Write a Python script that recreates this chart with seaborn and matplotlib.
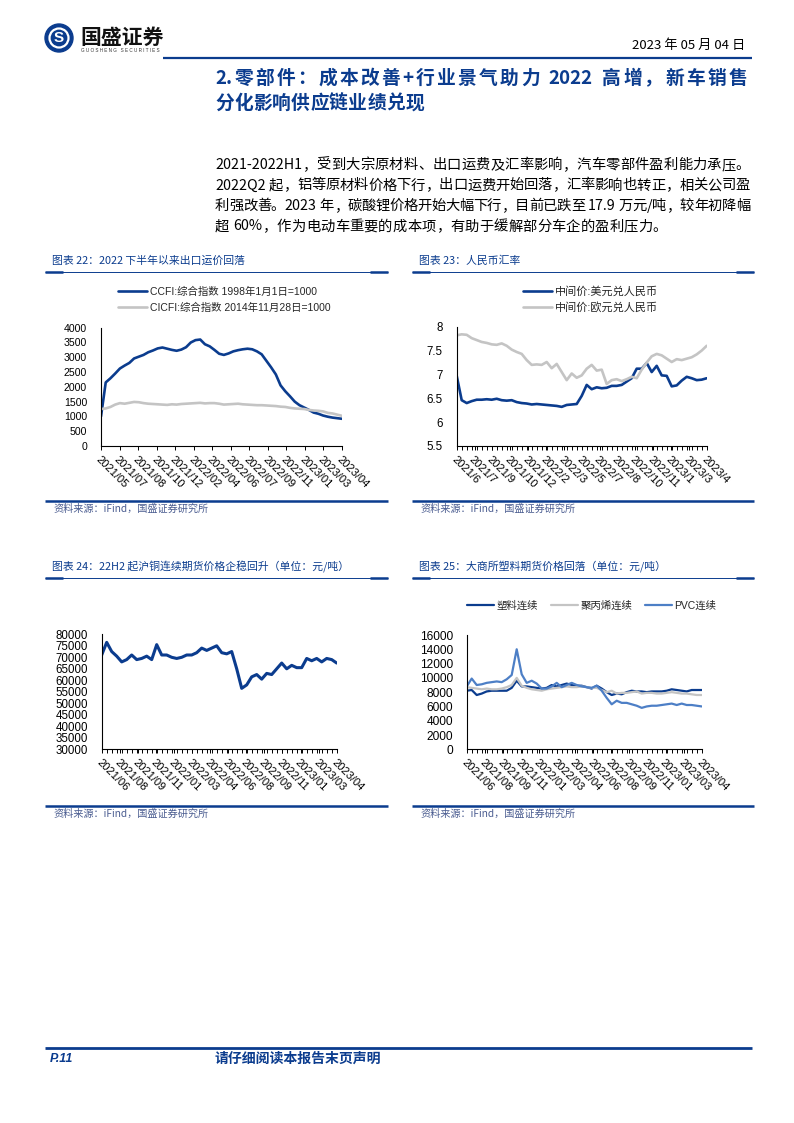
import re
import numpy as np
import pandas as pd
import matplotlib
matplotlib.use('Agg')
import matplotlib.pyplot as plt
import matplotlib.transforms as mtrans
import seaborn as sns
from matplotlib.lines import Line2D
from matplotlib.patches import Ellipse

# ---------------- data ----------------
ccfi_labels = ['2021/05', '2021/07', '2021/08', '2021/10', '2021/12', '2022/02', '2022/04',
               '2022/06', '2022/07', '2022/09', '2022/11', '2023/01', '2023/03', '2023/04']
ccfi = [1000, 2150, 2290, 2450, 2620, 2720, 2810, 2960, 3020, 3080,
        3170, 3230, 3300, 3330, 3290, 3250, 3220, 3260, 3340, 3500,
        3580, 3600, 3440, 3370, 3250, 3120, 3080, 3130, 3200, 3240,
        3270, 3290, 3270, 3200, 3100, 2880, 2660, 2420, 2050, 1850,
        1680, 1500, 1380, 1300, 1220, 1130, 1090, 1030, 990, 960,
        940, 920]
cicfi = [1250, 1270, 1320, 1400, 1450, 1430, 1460, 1490, 1480, 1450,
         1430, 1420, 1410, 1400, 1390, 1410, 1400, 1420, 1430, 1440,
         1450, 1460, 1440, 1450, 1450, 1430, 1400, 1410, 1420, 1430,
         1410, 1400, 1390, 1380, 1380, 1370, 1360, 1350, 1330, 1320,
         1290, 1270, 1260, 1250, 1220, 1200, 1190, 1170, 1120, 1100,
         1060, 1020]

fx_labels = ['2021/6', '2021/7', '2021/9', '2021/10', '2021/12', '2022/2', '2022/3', '2022/5',
             '2022/7', '2022/8', '2022/10', '2022/11', '2023/1', '2023/3', '2023/4']
usd_cny = [6.97, 6.46, 6.40, 6.44, 6.47, 6.47, 6.48, 6.47, 6.49, 6.46,
           6.45, 6.46, 6.42, 6.40, 6.39, 6.37, 6.38, 6.37, 6.36, 6.35,
           6.34, 6.32, 6.36, 6.37, 6.38, 6.55, 6.78, 6.69, 6.73, 6.71,
           6.72, 6.76, 6.76, 6.78, 6.85, 6.92, 7.12, 7.12, 7.24, 7.05,
           7.18, 6.98, 6.97, 6.75, 6.77, 6.87, 6.95, 6.92, 6.88, 6.89,
           6.92]
eur_cny = [7.82, 7.84, 7.83, 7.76, 7.72, 7.68, 7.66, 7.63, 7.62, 7.65,
           7.60, 7.52, 7.47, 7.43, 7.30, 7.20, 7.21, 7.20, 7.26, 7.13,
           7.22, 7.05, 6.88, 7.02, 6.93, 6.98, 7.12, 7.20, 7.08, 7.10,
           6.80, 6.88, 6.90, 6.86, 6.90, 6.95, 6.92, 7.10, 7.25, 7.38,
           7.43, 7.40, 7.33, 7.26, 7.32, 7.30, 7.33, 7.36, 7.42, 7.50,
           7.60]

fut_labels = ['2021/06', '2021/08', '2021/09', '2021/11', '2022/01', '2022/03', '2022/04',
              '2022/06', '2022/08', '2022/09', '2022/11', '2023/01', '2023/03', '2023/04']
copper = [71000, 76500, 72500, 70500, 68000, 69000, 71000, 69000, 69500, 70500,
          69000, 75500, 71000, 71000, 70000, 69500, 70000, 71000, 71000, 72000,
          74000, 73000, 74000, 75000, 72000, 71500, 72500, 65000, 56500, 58000,
          61500, 62500, 60500, 63000, 62500, 65000, 67500, 65000, 66500, 65500,
          65500, 69500, 68500, 69500, 68000, 69500, 69000, 67500]
lldpe = [8200, 8300, 7600, 7800, 8100, 8200, 8200, 8200, 8200, 8600,
         9600, 8800, 8800, 8700, 8600, 8500, 8600, 9000, 8800, 9000,
         9200, 9000, 8900, 8900, 8700, 8500, 8900, 8500, 8000, 7600,
         7800, 7700, 8000, 8200, 8100, 8100, 8000, 8100, 8100, 8100,
         8200, 8400, 8300, 8200, 8100, 8300, 8300, 8300]
pp = [8700, 8600, 8500, 8400, 8500, 8400, 8400, 8500, 8700, 9000,
      10000, 8900, 8600, 8400, 8300, 8200, 8400, 8500, 8600, 8700,
      8800, 8700, 8700, 8800, 8700, 8600, 8600, 8300, 8000, 8200,
      7800, 7900, 7900, 8000, 8100, 7800, 7900, 7900, 7800, 7800,
      7900, 8000, 7900, 7800, 7800, 7700, 7600, 7600]
pvc = [8800, 9900, 9000, 9100, 9300, 9400, 9500, 9400, 9800, 10400,
       14000, 10500, 9300, 9600, 9200, 8500, 8500, 8800, 9300, 8700,
       9000, 9300, 9000, 8800, 8700, 8600, 8900, 8200, 7200, 6300,
       6800, 6500, 6500, 6300, 6100, 5800, 6000, 6100, 6100, 6200,
       6300, 6400, 6200, 6400, 6200, 6200, 6100, 6000]

BLUE = '#0b3c8e'
GRAY = '#c4c4c4'
PVC_BLUE = '#4d7fc6'
SRC = '#4a5c90'

W, H = 794, 1123
sns.set_theme(style='white')
plt.rcParams['font.family'] = ['Liberation Sans', 'Noto Sans CJK SC', 'DejaVu Sans']
CJK = ['Noto Sans CJK SC', 'DejaVu Sans']

fig = plt.figure(figsize=(W / 100, H / 100), dpi=100)


def fy(y):
    return 1 - y / H


def panel(l, t, r, b):
    return fig.add_axes([l / W, 1 - b / H, (r - l) / W, (b - t) / H])


def hline(x0, x1, y, lw, color=BLUE):
    fig.add_artist(Line2D([x0 / W, x1 / W], [fy(y), fy(y)], lw=lw, color=color,
                          transform=fig.transFigure, solid_capstyle='butt'))


def put_line(x0, x1, y, s, size, justify=True, **kw):
    # spread CJK characters so the line fills x0..x1 like the justified report text
    r = fig.canvas.get_renderer()
    toks = re.findall(r'[!-~]+|\s|.', s)
    arts, widths = [], []
    for tk in toks:
        if tk.isspace():
            arts.append(None)
            widths.append(size * 0.25 * 100 / 72)
            continue
        a = fig.text(0, fy(y), tk, fontsize=size, va='center', ha='left', **kw)
        arts.append(a)
        widths.append(a.get_window_extent(r).width)
    gap = (x1 - x0 - sum(widths)) / (len(toks) - 1) if justify else size * 0.02
    x = x0
    for a, w in zip(arts, widths):
        if a is not None:
            a.set_x(x / W)
        x += w + gap


def draw(ax, series, colors, lw):
    df = pd.DataFrame(series)
    df['i'] = np.arange(len(df))
    long = df.melt(id_vars='i', var_name='name', value_name='v')
    sns.lineplot(data=long, x='i', y='v', hue='name', hue_order=list(series), palette=colors,
                 linewidth=lw, ax=ax, legend=False, sort=False)
    return len(df)


def finish(ax, n, labels, yticks, ylabels, ysize, minor=True):
    ax.set_xlim(0, n - 1)
    ax.set_ylim(yticks[0], yticks[-1])
    ax.set_xticks(np.linspace(0, n - 1, len(labels)))
    ax.set_xticklabels(labels, rotation=-45, ha='left', va='top', rotation_mode='anchor', fontsize=8)
    off = mtrans.ScaledTranslation(5 / 100, -3 / 100, fig.dpi_scale_trans)
    for lab in ax.get_xticklabels():
        lab.set_transform(lab.get_transform() + off)
    if minor:
        ax.set_xticks(np.arange(n), minor=True)
    ax.set_yticks(yticks)
    ax.set_yticklabels(ylabels, fontsize=ysize)
    ax.tick_params(axis='x', which='both', bottom=True, direction='out', length=3, width=0.7,
                   colors='black', pad=3)
    ax.tick_params(axis='y', left=False, pad=4, colors='black')
    sns.despine(ax=ax)
    for s in ['left', 'bottom']:
        ax.spines[s].set_color('black')
        ax.spines[s].set_linewidth(0.8)
    ax.set_xlabel('')
    ax.set_ylabel('')
    ax.patch.set_alpha(0)


def chart_frame(x0, x1, y_title, y_rule, y_src, title):
    fig.text((x0 + 7) / W, fy(y_title), title, fontsize=7.8, style='italic', color=BLUE,
             va='center', ha='left', family=CJK)
    hline(x0, x1, y_rule, 0.7)
    hline(x0, x0 + 18, y_rule, 1.8)
    hline(x1 - 18, x1, y_rule, 1.8)
    hline(x0, x1, y_src, 1.8)
    fig.text((x0 + 8) / W, fy(y_src + 7.5), '资料来源：iFind，国盛证券研究所', fontsize=7.3,
             style='italic', color=SRC, va='center', ha='left', family=CJK)


# ---------------- header ----------------
fig.add_artist(Ellipse((59 / W, fy(38)), 28 / W, 28 / H, color=BLUE, transform=fig.transFigure))
fig.add_artist(Ellipse((59 / W, fy(38)), 19 / W, 19 / H, fill=False, edgecolor='white', lw=1.6,
                       transform=fig.transFigure))
fig.text(59 / W, fy(38), 'S', color='white', fontsize=11, fontweight='bold', ha='center', va='center')
fig.text(80 / W, fy(37), '国盛证券', fontsize=15, fontweight='bold', color='#111111',
         ha='left', va='center', family=CJK)
fig.text(81 / W, fy(51), 'G U O S H E N G   S E C U R I T I E S', fontsize=3.3, color='#333333',
         ha='left', va='center')
fig.text(745 / W, fy(45), '2023 年 05 月 04 日', fontsize=9.5, color='black', ha='right', va='center',
         family=CJK)
hline(163, 752, 58, 1.6)

# ---------------- section title and text ----------------
put_line(215, 747, 78.5, '2.零部件：成本改善+行业景气助力 2022 高增，新车销售', 13.5,
         color=BLUE, fontweight='bold', family=CJK)
put_line(215, 747, 103.5, '分化影响供应链业绩兑现', 13.5, justify=False,
         color=BLUE, fontweight='bold', family=CJK)
para = ['2021-2022H1，受到大宗原材料、出口运费及汇率影响，汽车零部件盈利能力承压。',
        '2022Q2 起，铝等原材料价格下行，出口运费开始回落，汇率影响也转正，相关公司盈',
        '利强改善。2023 年，碳酸锂价格开始大幅下行，目前已跌至 17.9 万元/吨，较年初降幅',
        '超 60%，作为电动车重要的成本项，有助于缓解部分车企的盈利压力。']
for k, line in enumerate(para):
    put_line(215, 750, 165 + 20.5 * k, line, 10.3, justify=k < 3, color='black', family=CJK)

# ---------------- chart frames ----------------
chart_frame(45, 388, 260.5, 272, 501, '图表 22：2022 下半年以来出口运价回落')
chart_frame(412, 754, 260.5, 272, 501, '图表 23：人民币汇率')
chart_frame(45, 388, 566.5, 577.5, 806, '图表 24：22H2 起沪铜连续期货价格企稳回升（单位：元/吨）')
chart_frame(412, 754, 566.5, 577.5, 806, '图表 25：大商所塑料期货价格回落（单位：元/吨）')

# chart 22: shipping index
ax = panel(101, 327.7, 342, 446)
n = draw(ax, {'CCFI:综合指数 1998年1月1日=1000': ccfi,
              'CICFI:综合指数 2014年11月28日=1000': cicfi},
         {'CCFI:综合指数 1998年1月1日=1000': BLUE,
          'CICFI:综合指数 2014年11月28日=1000': GRAY}, 1.9)
finish(ax, n, ccfi_labels, list(range(0, 4001, 500)), [str(v) for v in range(0, 4001, 500)], 7.6,
       minor=False)
ax.legend(ax.lines, ['CCFI:综合指数 1998年1月1日=1000', 'CICFI:综合指数 2014年11月28日=1000'],
          loc='upper left', bbox_to_anchor=(118 / W, fy(286.5)), bbox_transform=fig.transFigure,
          frameon=False, fontsize=7.5, handlelength=2.8, handletextpad=0.25, borderpad=0,
          borderaxespad=0, labelspacing=0.55)

# chart 23: exchange rates
ax = panel(456.7, 326.7, 706.7, 446)
n = draw(ax, {'中间价:美元兑人民币': usd_cny, '中间价:欧元兑人民币': eur_cny},
         {'中间价:美元兑人民币': BLUE, '中间价:欧元兑人民币': GRAY}, 1.9)
finish(ax, n, fx_labels, [5.5, 6, 6.5, 7, 7.5, 8], ['5.5', '6', '6.5', '7', '7.5', '8'], 8.3)
ax.legend(ax.lines, ['中间价:美元兑人民币', '中间价:欧元兑人民币'],
          loc='upper left', bbox_to_anchor=(523 / W, fy(286.5)), bbox_transform=fig.transFigure,
          frameon=False, fontsize=8, handlelength=2.6, handletextpad=0.3, borderpad=0,
          borderaxespad=0, labelspacing=0.45)

# chart 24: copper futures
ax = panel(101.7, 634.3, 336.7, 749.3)
n = draw(ax, {'沪铜连续': copper}, {'沪铜连续': BLUE}, 2.2)
finish(ax, n, fut_labels, list(range(30000, 80001, 5000)),
       [str(v) for v in range(30000, 80001, 5000)], 8.3)

# chart 25: plastics futures
ax = panel(466.7, 635, 701.7, 749.3)
n = draw(ax, {'塑料连续': lldpe, '聚丙烯连续': pp, 'PVC连续': pvc},
         {'塑料连续': BLUE, '聚丙烯连续': GRAY, 'PVC连续': PVC_BLUE}, 1.6)
finish(ax, n, fut_labels, list(range(0, 16001, 2000)), [str(v) for v in range(0, 16001, 2000)], 8.6)
ax.legend(ax.lines, ['塑料连续', '聚丙烯连续', 'PVC连续'], ncol=3,
          loc='center left', bbox_to_anchor=(467 / W, fy(605.7)), bbox_transform=fig.transFigure,
          frameon=False, fontsize=7.5, handlelength=2.6, handletextpad=0.25, borderpad=0,
          borderaxespad=0, columnspacing=1.2)

# ---------------- footer ----------------
hline(45, 752, 1048, 2.0)
fig.text(50 / W, fy(1059), 'P.11', fontsize=9, fontweight='bold', style='italic', color=BLUE,
         ha='left', va='center')
fig.text(215 / W, fy(1059), '请仔细阅读本报告末页声明', fontsize=10, fontweight='bold', color=BLUE,
         ha='left', va='center', family=CJK)

fig.savefig('out.png', dpi=100, facecolor='white')
